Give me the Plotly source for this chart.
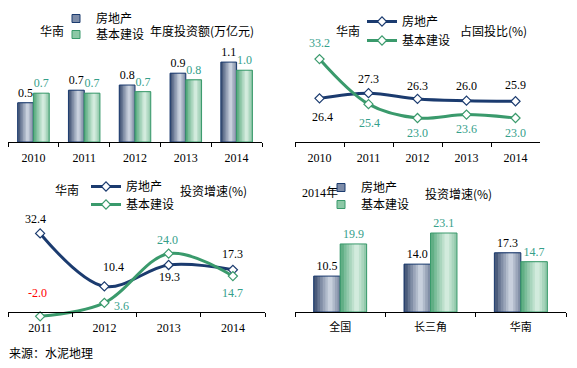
import plotly.graph_objects as go

# ---------------- data ----------------
years_amount = ['2010', '2011', '2012', '2013', '2014']
re_amount = [0.53, 0.70, 0.77, 0.93, 1.08]          # 房地产 年度投资额(万亿元)
infra_amount = [0.66, 0.66, 0.68, 0.84, 0.97]       # 基本建设

years_share = ['2010', '2011', '2012', '2013', '2014']
re_share = [26.4, 27.3, 26.3, 26.0, 25.9]           # 占固投比(%)
infra_share = [33.2, 25.4, 23.0, 23.6, 23.0]

years_growth = ['2011', '2012', '2013', '2014']
re_growth = [32.4, 10.4, 19.3, 17.3]                # 投资增速(%)
infra_growth = [-2.0, 3.6, 24.0, 14.7]

regions = ['全国', '长三角', '华南']
re_growth_2014 = [10.5, 14.0, 17.3]
infra_growth_2014 = [19.9, 23.1, 14.7]

series_names = ['房地产', '基本建设']

# ---------------- styles ----------------
W, H = 577, 368
SERIF = 'Liberation Serif, Times New Roman, serif'
CJK = 'Noto Sans CJK SC, sans-serif'
NAVY = '#1B3B6F'
GREEN = '#3A9A6C'
TEAL_TXT = '#35A08A'


def px(x):
    return x / W


def py(y):
    return 1 - y / H


def hex2rgb(h):
    h = h.lstrip('#')
    return tuple(int(h[i:i + 2], 16) for i in (0, 2, 4))


def interp(c1, c2, t):
    a, b = hex2rgb(c1), hex2rgb(c2)
    return 'rgb(%d,%d,%d)' % tuple(round(a[i] + (b[i] - a[i]) * t) for i in range(3))


fig = go.Figure()


def gradient_bars(x, y, xa, ya, left, width, dark, light, outline, textcolor):
    c = 0.62
    hs = [1.0, 0.6, 0.48, 0.38, 0.28, 0.18, 0.09]
    n = len(hs)
    for i, h in enumerate(hs):
        a = max(0.0, c - h)
        b = min(1.0, c + h)
        t = (i / (n - 1)) ** 0.8
        fig.add_bar(x=x, y=y, xaxis=xa, yaxis=ya, offset=left + width * a,
                    width=width * (b - a),
                    marker=dict(color=interp(dark, light, t), line=dict(width=0)),
                    showlegend=False, hoverinfo='skip')
    fig.add_bar(x=x, y=y, xaxis=xa, yaxis=ya, offset=left, width=width,
                marker=dict(color='rgba(0,0,0,0)', line=dict(color=outline, width=1)),
                texttemplate='%{y:.1f}', textposition='outside', constraintext='none',
                cliponaxis=False,
                textfont=dict(family=SERIF, size=12, color=textcolor),
                showlegend=False, hoverinfo='skip')


def legend_square(name, fill, outline, legend):
    fig.add_scatter(x=[None], y=[None], mode='markers', name=name, legend=legend,
                    marker=dict(symbol='square', size=8, color=fill,
                                line=dict(color=outline, width=1)))


BLUE_DARK, BLUE_LIGHT = '#22365C', '#C8D0DD'
GRN_DARK, GRN_LIGHT = '#3E9C6A', '#D2EBDD'

# ---------------- panel 1: annual investment bars ----------------
BW1 = 0.31
gradient_bars(years_amount, re_amount, 'x', 'y', -BW1, BW1, BLUE_DARK, BLUE_LIGHT, NAVY, 'black')
gradient_bars(years_amount, infra_amount, 'x', 'y', 0, BW1, GRN_DARK, GRN_LIGHT, GREEN, TEAL_TXT)
legend_square(series_names[0], '#7D8CA8', NAVY, 'legend5')
legend_square(series_names[1], '#8CC8A6', GREEN, 'legend6')


# ---------------- line panels ----------------
def line_trace(x, y, xa, ya, color, name, legend, dx, dy, txtcolors):
    fig.add_scatter(x=x, y=y, xaxis=xa, yaxis=ya, mode='lines+markers', name=name,
                    legend=legend,
                    line=dict(color=color, width=3, shape='spline', smoothing=1),
                    marker=dict(symbol='diamond', size=7, color='white',
                                line=dict(color=color, width=1.2)),
                    cliponaxis=False, hoverinfo='skip')
    if isinstance(txtcolors, str):
        txtcolors = [txtcolors] * len(y)
    for i, (yi, sx, sy, tc) in enumerate(zip(y, dx, dy, txtcolors)):
        fig.add_annotation(x=i, y=yi, xref=xa, yref=ya, text='%.1f' % yi,
                           showarrow=False, xanchor='center', yanchor='middle',
                           xshift=sx, yshift=sy,
                           font=dict(family=SERIF, size=12, color=tc))


line_trace(years_share, re_share, 'x2', 'y2', NAVY, series_names[0], 'legend2',
           [3, 0, 0, 0, 0], [-19, 14, 13, 15, 16], 'black')
line_trace(years_share, infra_share, 'x2', 'y2', GREEN, series_names[1], 'legend7',
           [0, 1, 0, 0, 0], [16, -19, -15, -14, -15], TEAL_TXT)

line_trace(years_growth, re_growth, 'x3', 'y3', NAVY, series_names[0], 'legend3',
           [-5, 9, 1, 0], [14, 19, -12, 16], 'black')
line_trace(years_growth, infra_growth, 'x3', 'y3', GREEN, series_names[1], 'legend8',
           [-3, 17, -1, 0], [23, -3, 14, -17],
           ['#FF0000', TEAL_TXT, TEAL_TXT, TEAL_TXT])

# ---------------- panel 4: 2014 growth bars ----------------
BW4 = 0.293
gradient_bars(regions, re_growth_2014, 'x4', 'y4', -BW4, BW4, BLUE_DARK, BLUE_LIGHT, NAVY, 'black')
gradient_bars(regions, infra_growth_2014, 'x4', 'y4', 0, BW4, GRN_DARK, GRN_LIGHT, GREEN, TEAL_TXT)
legend_square(series_names[0], '#7D8CA8', NAVY, 'legend4')
legend_square(series_names[1], '#8CC8A6', GREEN, 'legend9')

# ---------------- axes ----------------
xcommon = dict(type='category', showline=True, linecolor='black', linewidth=1,
               ticks='outside', tickson='boundaries', ticklen=4, tickcolor='black',
               ticklabelstandoff=5,
               showgrid=False, zeroline=False, fixedrange=True,
               tickfont=dict(family=SERIF, size=12, color='black'))
ycommon = dict(visible=False, showgrid=False, zeroline=False, fixedrange=True)

zero3 = 311.5
fig.update_layout(
    xaxis=dict(xcommon, domain=[px(8), px(262)], anchor='y', range=[-0.5, 4.5]),
    yaxis=dict(ycommon, domain=[py(142), py(40)], anchor='x', range=[0, 102 / 74]),
    xaxis2=dict(xcommon, domain=[px(295), px(540)], anchor='y2', range=[-0.5, 4.5]),
    yaxis2=dict(ycommon, domain=[py(142), py(40)], anchor='x2', range=[18.85, 18.85 + 102 / 5.78]),
    xaxis3=dict(xcommon, domain=[px(8), px(265)], anchor='free', position=py(zero3), range=[-0.5, 3.5]),
    yaxis3=dict(ycommon, domain=[py(322), py(215)], anchor='x3',
                range=[-(322 - zero3) / 2.41, (zero3 - 215) / 2.41]),
    xaxis4=dict(xcommon, domain=[px(295), px(566)], anchor='y4', range=[-0.5, 2.5],
                tickfont=dict(family=CJK, size=11, color='black')),
    yaxis4=dict(ycommon, domain=[py(312), py(215)], anchor='x4', range=[0, 97 / 3.42]),
)

legend_style = dict(xanchor='left', yanchor='top', bgcolor='rgba(0,0,0,0)', borderwidth=0,
                    font=dict(family=CJK, size=12, color='black'), itemwidth=30,
                    tracegroupgap=0, orientation='v')


def leg(text_x, row_y):
    return dict(legend_style, x=px(text_x - 41), y=py(row_y - 12))


fig.update_layout(
    legend=dict(legend_style, x=0, y=0, visible=False),
    legend5=leg(97, 16), legend6=leg(97, 32),
    legend2=leg(403, 19), legend7=leg(403, 38),
    legend3=leg(127, 184), legend8=leg(127, 202),
    legend4=leg(362, 185), legend9=leg(362, 202),
)


# ---------------- text ----------------
def note(text, x, y, xanchor='left', size=12, family=CJK):
    fig.add_annotation(text=text, x=px(x), y=py(y), xref='paper', yref='paper',
                       xanchor=xanchor, yanchor='middle', showarrow=False,
                       font=dict(family=family, size=size, color='black'))


note('华南', 52, 30, 'center')
note('年度投资额(万亿元)', 148, 30)
note('华南', 348, 30, 'center')
note('占固投比(%)', 458, 30)
note('华南', 67, 189, 'center')
note('投资增速(%)', 178, 190)
note('2014年', 300, 193, family='Liberation Serif, Noto Sans CJK SC, serif')
note('投资增速(%)', 423, 193)
note('来源：水泥地理', 7, 352)

fig.update_layout(width=W, height=H, margin=dict(l=0, r=0, t=0, b=0),
                  paper_bgcolor='white', plot_bgcolor='rgba(0,0,0,0)',
                  barmode='overlay', showlegend=True,
                  font=dict(family=SERIF, size=12, color='black'))

fig.write_html('out.html', config={'displayModeBar': False},
               post_script="document.body.style.margin='0';")
